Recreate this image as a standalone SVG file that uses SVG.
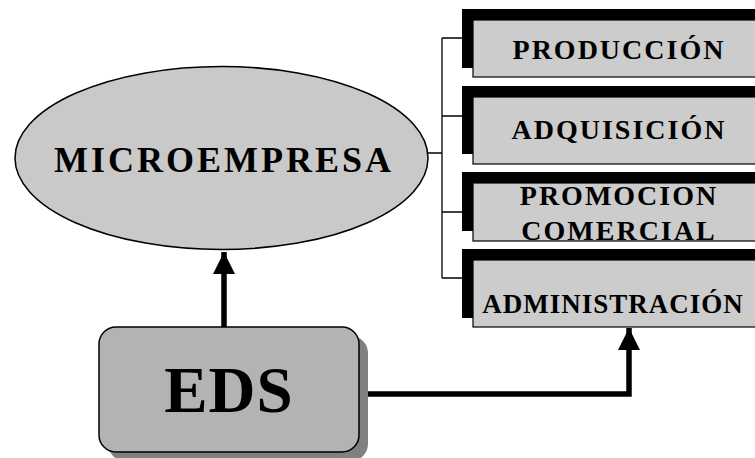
<svg xmlns="http://www.w3.org/2000/svg" width="755" height="458" viewBox="0 0 755 458">
<defs>
<style>
text{font-family:'Liberation Serif',serif;font-weight:700;fill:#000;text-anchor:middle}
.box{font-size:28px;letter-spacing:2px}
.shadow{fill:#000}
.face{fill:#cccccc;stroke:#000;stroke-width:1.2}
.thin{fill:none;stroke:#000;stroke-width:1.3}
.thick{fill:none;stroke:#000;stroke-width:5.5}
</style>
<marker id="ah" markerUnits="userSpaceOnUse" markerWidth="22" markerHeight="22" viewBox="0 0 22 22" refX="22" refY="11" orient="auto">
<path d="M0,0 L22,11 L0,22 Z" fill="#000"/>
</marker>
</defs>
<rect width="755" height="458" fill="#fff"/>
<g id="connectors">
<path class="thin" d="M428,153 H442 M442,38 V278 M442,38 H462 M442,116 H462 M442,212 H462 M442,278 H462"/>
<path class="thick" d="M224,327 V252" marker-end="url(#ah)"/>
<path class="thick" d="M359,394 H629 V328" marker-end="url(#ah)"/>
</g>
<g id="microempresa">
<ellipse cx="221.5" cy="158" rx="206.5" ry="91.5" fill="#c9c9c9" stroke="#000" stroke-width="1.5"/>
<text x="224" y="172" font-size="36" letter-spacing="3">MICROEMPRESA</text>
</g>
<g id="produccion">
<rect class="shadow" x="462" y="9" width="300" height="59"/>
<rect class="face" x="473" y="20" width="300" height="57"/>
<text class="box" x="619" y="59">PRODUCCIÓN</text>
</g>
<g id="adquisicion">
<rect class="shadow" x="462" y="86" width="300" height="68"/>
<rect class="face" x="473" y="97" width="300" height="67"/>
<text class="box" x="619" y="139">ADQUISICIÓN</text>
</g>
<g id="promocion">
<rect class="shadow" x="462" y="172" width="300" height="59"/>
<rect class="face" x="473" y="183" width="300" height="58"/>
<text class="box" x="619" y="205">PROMOCION</text>
<text class="box" x="619" y="240">COMERCIAL</text>
</g>
<g id="administracion">
<rect class="shadow" x="462" y="249" width="300" height="69"/>
<rect class="face" x="473" y="260" width="300" height="67"/>
<text x="613" y="313" font-size="27" letter-spacing="1">ADMINISTRACIÓN</text>
</g>
<g id="eds">
<rect x="108" y="336" width="260" height="125" rx="17" fill="#808080"/>
<rect x="99" y="327" width="260" height="125" rx="17" fill="#b3b3b3" stroke="#000" stroke-width="1.5"/>
<text x="229" y="412" font-size="65" letter-spacing="1">EDS</text>
</g>
</svg>
